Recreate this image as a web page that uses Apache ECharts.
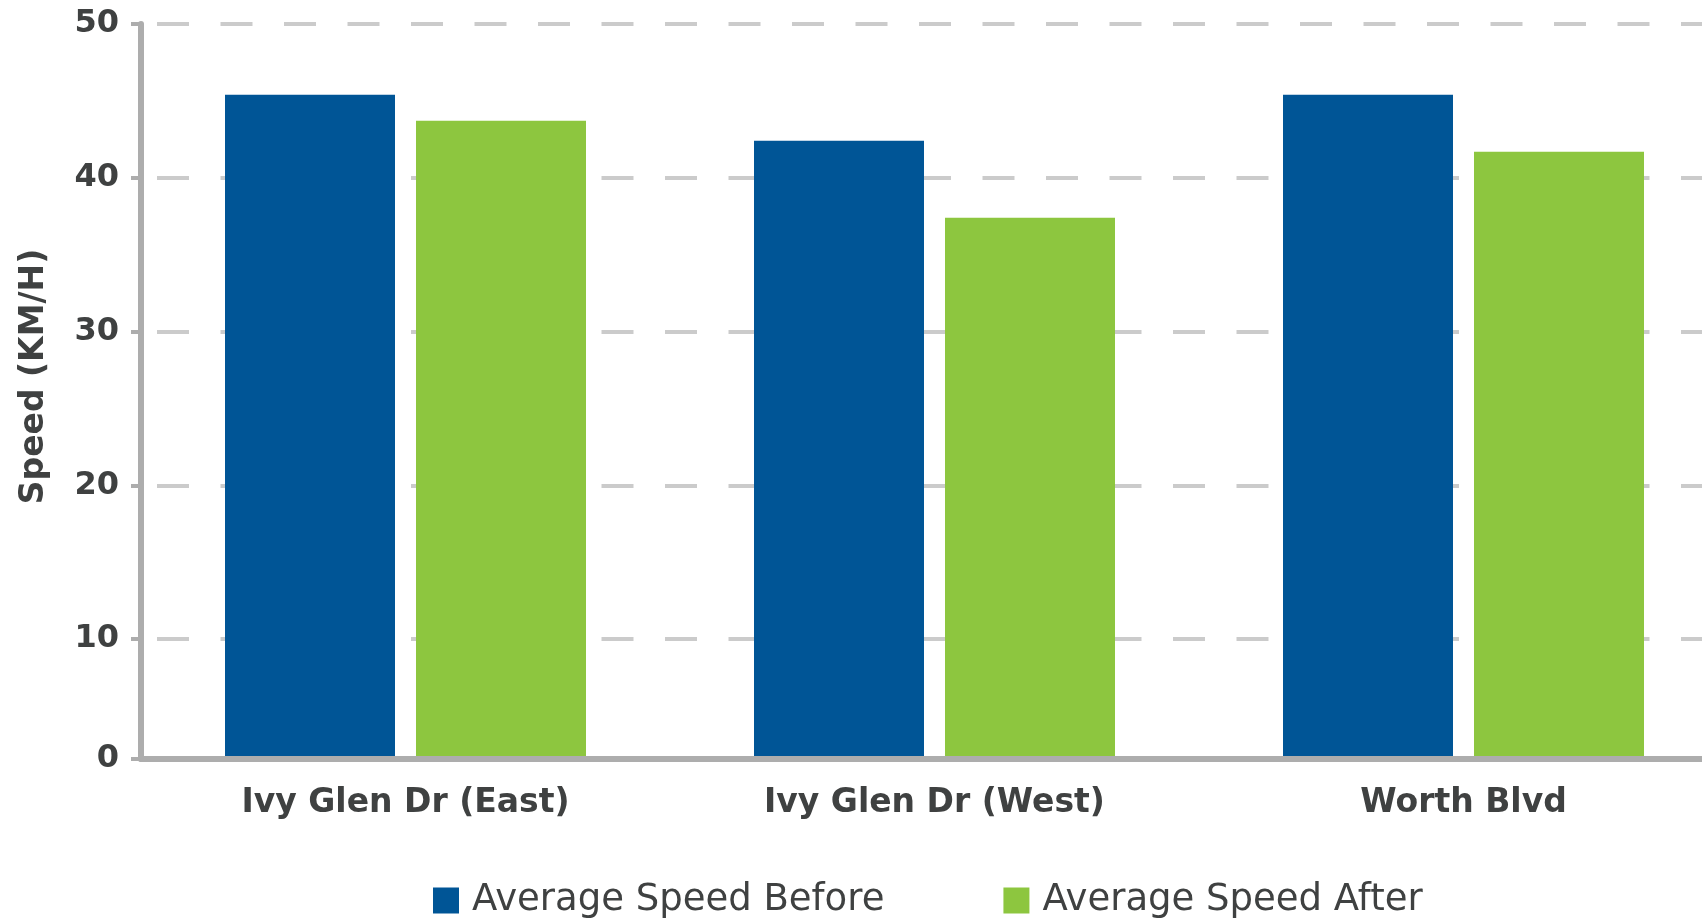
<!DOCTYPE html>
<html>
<head>
<meta charset="utf-8">
<title>Average Speed</title>
<script src="https://cdn.jsdelivr.net/npm/echarts@6/dist/echarts.min.js"></script>
<style>
  html, body { margin: 0; padding: 0; background: #fff; overflow: hidden; }
  /* 图表右侧在原图中被裁掉，所以画布比窗口宽一些 */
  #chart { width: 1760px; height: 921px; }
</style>
</head>
<body>
<div id="chart"></div>
<script>
// 数据
const categories = ['Ivy Glen Dr (East)', 'Ivy Glen Dr (West)', 'Worth Blvd'];
const seriesNames = ['Average Speed Before', 'Average Speed After'];
const speedBefore = [45.4, 42.4, 45.4];
const speedAfter = [43.7, 37.4, 41.7];
// 坐标轴：底部被截断，最下面一格标为 0
const yMin = 2.2;
const yMax = 50;

const textColor = '#3f4141';
const axisColor = '#adadad';
const fontFamily = 'DejaVu Sans';

const chart = echarts.init(document.getElementById('chart'));
chart.setOption({
  backgroundColor: '#ffffff',
  animation: false,
  grid: {
    left: 141,
    top: 24,
    width: 1587,
    height: 735,
  },
  legend: {
    left: 433,
    top: 882,
    padding: 0,
    icon: 'rect',
    itemWidth: 26,
    itemHeight: 26,
    itemGap: 119,
    textStyle: {
      color: textColor,
      fontFamily: fontFamily,
      fontSize: 37,
      padding: [0, 0, 0, 8],
    },
    data: seriesNames,
  },
  xAxis: {
    type: 'category',
    data: categories,
    z: 5,
    axisLine: { lineStyle: { color: axisColor, width: 6 } },
    axisTick: {
      alignWithLabel: true,
      length: 9,
      lineStyle: { color: axisColor, width: 4 },
    },
    axisLabel: {
      color: textColor,
      fontFamily: fontFamily,
      fontWeight: 'bold',
      fontSize: 33,
      margin: 28,
    },
  },
  yAxis: {
    type: 'value',
    min: yMin,
    max: yMax,
    minInterval: 10,
    maxInterval: 10,
    name: 'Speed (KM/H)',
    nameLocation: 'middle',
    nameRotate: 90,
    nameGap: 90,
    nameTextStyle: {
      color: textColor,
      fontFamily: fontFamily,
      fontWeight: 'bold',
      fontSize: 33,
      padding: [0, 0, 0, 30],
    },
    axisLine: { show: true, lineStyle: { color: axisColor, width: 6 } },
    axisTick: { show: true, length: 10, lineStyle: { color: axisColor, width: 4 } },
    axisLabel: {
      color: textColor,
      fontFamily: fontFamily,
      fontWeight: 'bold',
      fontSize: 32,
      margin: 22,
      showMinLabel: true,
      formatter: (v) => (v === yMin ? '0' : String(v)),
    },
    splitLine: {
      show: true,
      lineStyle: {
        color: '#cbcbcb',
        width: 4,
        type: [32, 31.5],
        dashOffset: 47.5,
      },
    },
  },
  series: [
    {
      name: seriesNames[0],
      type: 'bar',
      data: speedBefore,
      barWidth: 170,
      barGap: '12.35%',
      itemStyle: { color: '#005596' },
    },
    {
      name: seriesNames[1],
      type: 'bar',
      data: speedAfter,
      barWidth: 170,
      itemStyle: { color: '#8dc63f' },
    },
  ],
});
</script>
</body>
</html>
